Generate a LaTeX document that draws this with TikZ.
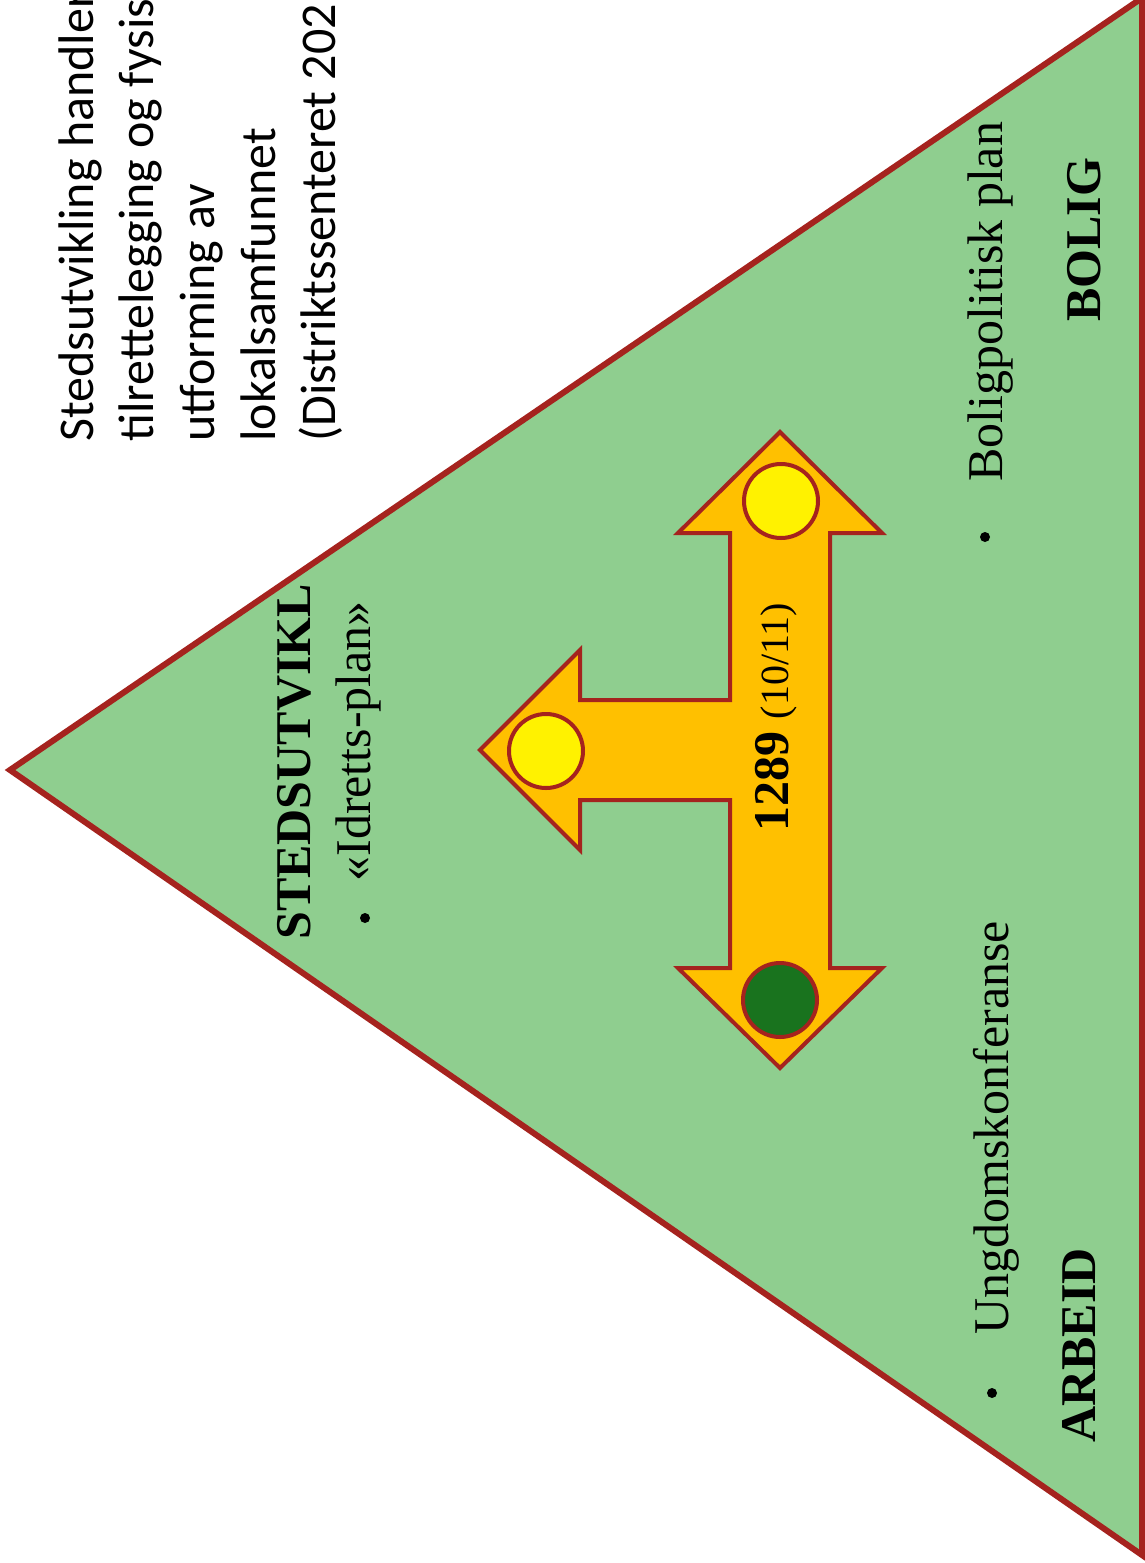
\documentclass[tikz,border=0pt]{standalone}
\usepackage{fontspec}
\setmainfont{Liberation Serif}
\newfontfamily\calfont{Carlito}
\definecolor{trigreen}{RGB}{143,206,143}
\definecolor{edgered}{RGB}{165,35,30}
\definecolor{arroworange}{RGB}{255,192,0}
\definecolor{dotyellow}{RGB}{255,242,0}
\definecolor{dotgreen}{RGB}{25,115,30}
\begin{document}
\begin{tikzpicture}[x=0.5pt,y=-0.5pt,
  lbl/.style={rotate=90,anchor=base west,inner sep=0pt,font=\fontsize{25}{30}\selectfont},
  lblb/.style={rotate=90,anchor=base west,inner sep=0pt,font=\fontsize{25}{30}\selectfont\bfseries},
  side/.style={rotate=90,anchor=base west,inner sep=0pt,font=\calfont\fontsize{25}{30}\selectfont},
  bul/.style={circle,fill=black,inner sep=0pt,minimum size=5pt},
  circ/.style={circle,draw=edgered,line width=2pt,inner sep=0pt,minimum size=37pt}]
\useasboundingbox (0,0) rectangle (1145,1563);
\fill[white] (0,0) rectangle (1145,1563);
% triangle
\coordinate (apex) at (10,770);
\coordinate (tr) at (1142,-2);
\coordinate (br) at (1142,1555);
\draw[edgered,line width=3pt,fill=trigreen,line join=miter] (apex) -- (tr) -- (br) -- cycle;
% side text
\node[side] (s1) at (93,442) {Stedsutvikling handler};
\node[side] (s2) at (153,442) {tilrettelegging og fysisk};
\node[side] (s3) at (214,442) {utforming av};
\node[side] (s4) at (275,442) {lokalsamfunnet};
\node[side] (s5) at (335,442) {(Distriktssenteret 202};
% labels in triangle
\node[lblb] (sted) at (310,940) {STEDSUTVIKL};
\node[bul] (b1) at (365,918) {};
\node[lbl] (idr) at (370,882) {«Idretts-plan»};
\node[bul] (b2) at (985,537) {};
\node[lbl] (bol) at (1002,482) {Boligpolitisk plan};
\node[lblb] (bolig) at (1100,322) {BOLIG};
\node[bul] (b3) at (992,1393) {};
\node[lbl] (ung) at (1008,1335) {Ungdomskonferanse};
\node[lblb] (arb) at (1095,1443) {ARBEID};
% T arrow
\draw[edgered,line width=2pt,fill=arroworange,line join=miter]
  (780,432) -- (882,533) -- (830,533) -- (830,968) -- (882,968) -- (780,1068)
  -- (678,968) -- (730,968) -- (730,800) -- (580,800) -- (580,850) -- (480,750)
  -- (580,650) -- (580,700) -- (730,700) -- (730,533) -- (678,533) -- cycle;
\node[circ,fill=dotyellow] (c1) at (781,501) {};
\node[circ,fill=dotyellow] (c2) at (546,751) {};
\node[circ,fill=dotgreen] (c3) at (780,1000) {};
\node[rotate=90,anchor=base west,inner sep=0pt] (num) at (788,832)
  {\fontsize{25}{28}\selectfont\bfseries 1289 \fontsize{20}{24}\mdseries\selectfont(10/11)};
\end{tikzpicture}
\end{document}
